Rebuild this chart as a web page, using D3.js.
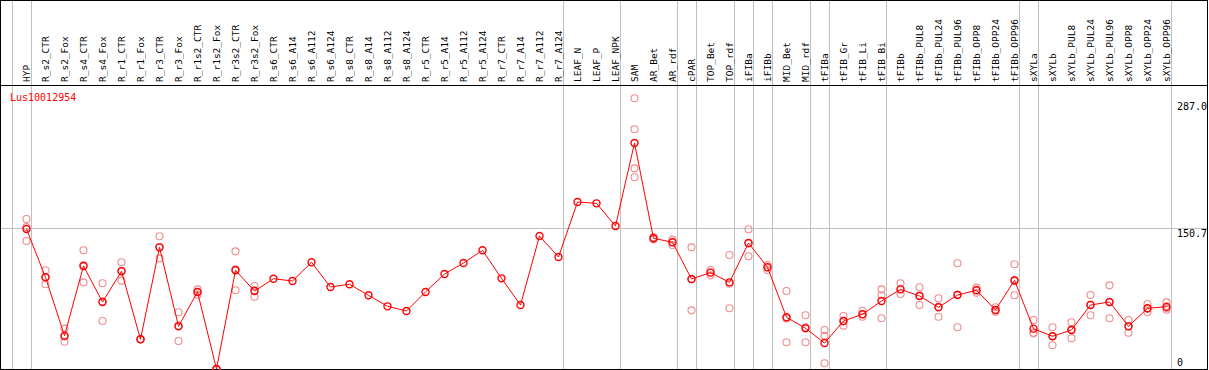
<!DOCTYPE html>
<html>
<head>
    <meta charset="UTF-8">
    <title>Lus10012954</title>
    <script src="https://cdn.jsdelivr.net/npm/d3@7"></script>
    <style>
        body { margin: 0; background: #fff; }
        svg text { font-family: "DejaVu Sans Mono", "Liberation Mono", monospace; }
    </style>
</head>
<body>
<svg id="graph" width="1209" height="370"></svg>

<script>
// sample names, left to right
const categories = [
    "HYP", "R_s2_CTR", "R_s2_Fox", "R_s4_CTR", "R_s4_Fox", "R_r1_CTR", "R_r1_Fox",
    "R_r3_CTR", "R_r3_Fox", "R_r1s2_CTR", "R_r1s2_Fox", "R_r3s2_CTR", "R_r3s2_Fox",
    "R_s6_CTR", "R_s6_A14", "R_s6_A112", "R_s6_A124", "R_s8_CTR", "R_s8_A14", "R_s8_A112",
    "R_s8_A124", "R_r5_CTR", "R_r5_A14", "R_r5_A112", "R_r5_A124", "R_r7_CTR", "R_r7_A14",
    "R_r7_A112", "R_r7_A124", "LEAF_N", "LEAF_P", "LEAF_NPK", "SAM", "AR_Bet", "AR_rdf",
    "cPAR", "TOP_Bet", "TOP_rdf", "iFIBa", "iFIBb", "MID_Bet", "MID_rdf", "tFIBa",
    "tFIB_Gr", "tFIB_Li", "tFIB_Bi", "tFIBb", "tFIBb_PUL8", "tFIBb_PUL24", "tFIBb_PUL96",
    "tFIBb_OPP8", "tFIBb_OPP24", "tFIBb_OPP96", "sXYLa", "sXYLb", "sXYLb_PUL8",
    "sXYLb_PUL24", "sXYLb_PUL96", "sXYLb_OPP8", "sXYLb_OPP24", "sXYLb_OPP96"
];

// mean expression per sample
const means = [
    149.9, 98.2, 35.7, 110.3, 71.8, 104.6, 31.8,
    130.3, 45.7, 82.5, 0, 105.7, 83.5,
    96.7, 94.2, 114.3, 87.8, 90.7, 78.9, 67.1,
    62.1, 82.5, 101.7, 113.5, 127.1, 97.1, 68.5,
    142.4, 119.9, 178.8, 177.4, 153.1, 242.0, 140.0, 135.7,
    96.4, 103.2, 92.8, 134.9, 108.9, 55.4, 43.6, 27.8,
    51.4, 58.6, 72.8, 85.3, 78.2, 66.1, 79.2,
    84.3, 63.2, 95.0, 43.2, 35.0, 41.8,
    68.5, 71.8, 45.7, 65.0, 66.7
];

// replicate values (empty where only one value was measured)
const replicates = [
    [160.6, 152.0, 137.1], [105.7, 98.2, 90.7], [43.2, 34.7, 29.2], [127.1, 111.0, 92.8],
    [91.8, 72.2, 51.4], [114.3, 104.9, 94.6], [31.8, 31.8, 31.8],
    [142.1, 130.3, 118.5], [60.7, 46.4, 30.0], [85.3, 82.5, 79.6], [0, 0, 0],
    [126.0, 106.8, 84.3], [88.9, 84.2, 77.4],
    [], [], [], [], [], [], [],
    [], [], [], [], [], [], [],
    [], [], [], [], [], [289.9, 256.7, 214.9, 205.3], [141.2, 140.0, 138.8], [138.5, 135.7, 132.8],
    [130.3, 96.1, 62.8], [106.0, 103.2, 100.3], [122.1, 91.3, 65.0], [149.6, 134.4, 120.7],
    [111.4, 108.9, 106.0], [83.5, 54.1, 28.6], [57.5, 44.7, 28.6], [41.8, 35.5, 6.1],
    [56.8, 51.4, 46.4], [62.4, 58.6, 56.0], [85.3, 78.9, 54.3], [91.8, 85.3, 80.3],
    [87.5, 78.6, 68.5], [75.7, 66.6, 56.0], [113.2, 79.7, 44.7],
    [87.1, 84.3, 81.7], [66.1, 63.2, 61.4], [112.1, 94.0, 78.9], [52.5, 38.9, 38.2],
    [44.7, 34.9, 25.4], [50.0, 42.5, 32.9],
    [79.2, 68.8, 57.5], [89.6, 71.5, 54.3], [52.5, 45.7, 38.9], [69.6, 64.4, 61.0],
    [71.4, 65.2, 63.5]
];

// a grey separator is drawn after each of these samples
const groupEnds = [
    "HYP", "R_r7_A124", "LEAF_NPK", "AR_rdf", "cPAR", "TOP_rdf", "iFIBa", "iFIBb",
    "MID_rdf", "tFIBa", "tFIB_Bi", "tFIBb_OPP96", "sXYLa", "sXYLb_OPP96"
];

const yTicks = [287.0, 150.7, 0];
const yTickLabels = ["287.0", "150.7", "0"];
const geneName = "Lus10012954";

const svg = d3.select("#graph");
const W = 1207, H = 369, headerH = 85;

const x = d3.scaleBand().domain(categories).range([17, 17 + categories.length * 19]);
const y = d3.scaleLinear().domain([0, 287]).range([369, 101]);
const cx = d => x(d) + x.bandwidth() / 2;

// grid lines (vertical separators run through the header too)
const sepX = [cx(categories[0]) - x.step()].concat(groupEnds.map(cx))
    .map(v => Math.round(v + 4) + 0.5);

svg.append("g")
    .selectAll("line")
    .data(sepX)
    .join("line")
    .attr("x1", d => d).attr("x2", d => d)
    .attr("y1", 0).attr("y2", H)
    .attr("stroke", "#c0c0c0")
    .attr("stroke-width", 1);

svg.append("line")
    .attr("x1", 0).attr("x2", W)
    .attr("y1", Math.round(y(150.7)) + 0.5).attr("y2", Math.round(y(150.7)) + 0.5)
    .attr("stroke", "#c0c0c0");

// frame
svg.append("rect")
    .attr("x", 0.5).attr("y", 0.5)
    .attr("width", W).attr("height", H)
    .attr("fill", "none").attr("stroke", "#000");

svg.append("line")
    .attr("x1", 0).attr("x2", W + 1)
    .attr("y1", headerH + 0.5).attr("y2", headerH + 0.5)
    .attr("stroke", "#000");

// rotated sample names
svg.append("g")
    .selectAll("text")
    .data(categories)
    .join("text")
    .attr("transform", d => "translate(" + (cx(d) + 3) + ",82) rotate(-90)")
    .attr("font-size", "9.5px")
    .attr("fill", "#000")
    .text(d => d);

// y tick labels on the right
svg.append("g")
    .selectAll("text")
    .data(yTicks)
    .join("text")
    .attr("x", 1177)
    .attr("y", d => Math.min(y(d) + 9, 366))
    .attr("font-size", "10px")
    .attr("fill", "#000")
    .text((d, i) => yTickLabels[i]);

svg.append("text")
    .attr("x", 10).attr("y", 101)
    .attr("font-size", "10px")
    .attr("fill", "red")
    .text(geneName);

// replicate circles
const reps = [];
categories.forEach((c, i) => replicates[i].forEach(v => reps.push({ c, v })));

svg.append("g")
    .selectAll("circle")
    .data(reps)
    .join("circle")
    .attr("cx", d => cx(d.c))
    .attr("cy", d => y(d.v))
    .attr("r", 3.5)
    .attr("fill", "none")
    .attr("stroke", "#f08c8c")
    .attr("stroke-width", 1.1);

// mean line + points
const pts = categories.map((c, i) => ({ c, v: means[i] }));

const line = d3.line()
    .x(d => cx(d.c))
    .y(d => y(d.v));

svg.append("path")
    .datum(pts)
    .attr("fill", "none")
    .attr("stroke", "red")
    .attr("stroke-width", 1)
    .attr("d", line);

svg.append("g")
    .selectAll("circle")
    .data(pts)
    .join("circle")
    .attr("cx", d => cx(d.c))
    .attr("cy", d => y(d.v))
    .attr("r", 3.5)
    .attr("fill", "none")
    .attr("stroke", "red")
    .attr("stroke-width", 1.4);
</script>
</body>
</html>
